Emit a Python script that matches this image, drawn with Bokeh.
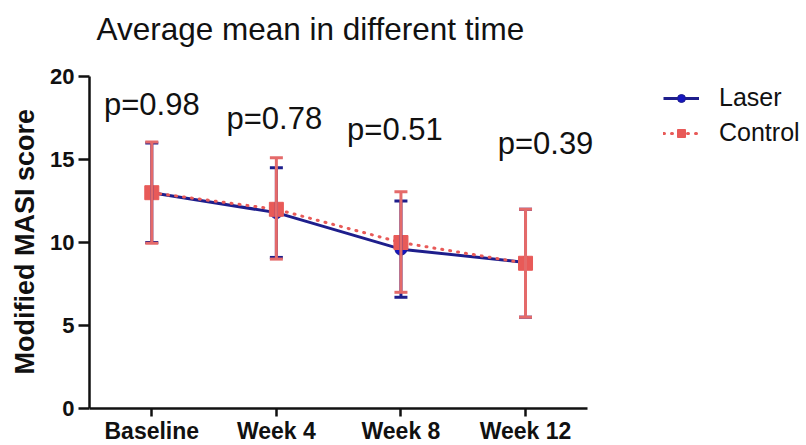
from bokeh.plotting import figure
from bokeh.models import (ColumnDataSource, Whisker, TeeHead, Legend, LegendItem,
                          Range1d, Label, Title)
from bokeh.core.properties import value
from bokeh.embed import file_html
from bokeh.resources import INLINE

categories = ["Baseline", "Week 4", "Week 8", "Week 12"]
laser_mean = [13.0, 11.8, 9.6, 8.8]
laser_upper = [16.0, 14.5, 12.5, 12.0]
laser_lower = [10.0, 9.1, 6.7, 5.5]
control_mean = [13.0, 12.0, 10.0, 8.75]
control_upper = [16.05, 15.1, 13.05, 12.0]
control_lower = [9.95, 9.0, 7.0, 5.5]
p_labels = ["p=0.98", "p=0.78", "p=0.51", "p=0.39"]
p_label_y = [18.3, 17.45, 16.8, 15.95]
p_label_dx = [0, -2, -6, 20]
y_ticks = [0, 5, 10, 15, 20]
title_text = "Average mean in different time"
y_label_text = "Modified MASI score"

FONT = "Liberation Sans"
LASER_LINE = "#1e1e8c"
LASER_MARK = "#1616c0"
CTRL = "#e85a58"
CTRL_ERR = "#e46a6a"

W, H = 806, 445
LEFT = 88
PX_X = 124.75          # pixels per category step
PX_Y = 16.6            # pixels per score unit
TOP_GAP, BOTTOM_GAP = 76, 37

xs = list(range(len(categories)))

p = figure(width=W, height=H, output_backend="svg", toolbar_location=None,
           x_range=Range1d(-0.5, -0.5 + (W - LEFT) / PX_X),
           y_range=Range1d(-BOTTOM_GAP / PX_Y, 20 + TOP_GAP / PX_Y),
           min_border_left=LEFT, min_border_right=0, min_border_top=0,
           min_border_bottom=0)
p.title.visible = False
p.outline_line_color = None
p.xgrid.grid_line_color = None
p.ygrid.grid_line_color = None
p.background_fill_color = "white"
p.border_fill_color = "white"

laser = ColumnDataSource(dict(x=xs, y=laser_mean, up=laser_upper, lo=laser_lower))
ctrl = ColumnDataSource(dict(x=xs, y=control_mean, up=control_upper, lo=control_lower))
plab = ColumnDataSource(dict(x=xs, y=p_label_y, t=p_labels, dx=p_label_dx))

l_line = p.line("x", "y", source=laser, line_color=LASER_LINE, line_width=3)
lw = Whisker(source=laser, base="x", upper="up", lower="lo", line_color=LASER_LINE,
             line_width=3, level="glyph",
             upper_head=TeeHead(size=13, line_color=LASER_LINE, line_width=3),
             lower_head=TeeHead(size=13, line_color=LASER_LINE, line_width=3))
p.add_layout(lw)
l_mark = p.scatter("x", "y", source=laser, marker="circle", size=12,
                   fill_color=LASER_MARK, line_color=LASER_LINE, line_width=1)

c_line = p.line("x", "y", source=ctrl, line_color=CTRL, line_width=3,
                line_dash="1 7", line_cap="round")
cw = Whisker(source=ctrl, base="x", upper="up", lower="lo", line_color=CTRL_ERR,
             line_width=3, level="glyph",
             upper_head=TeeHead(size=13, line_color=CTRL_ERR, line_width=3),
             lower_head=TeeHead(size=13, line_color=CTRL_ERR, line_width=3))
p.add_layout(cw)
c_mark = p.scatter("x", "y", source=ctrl, marker="square", size=14,
                   fill_color=CTRL, line_color=CTRL)

p.text("x", "y", text="t", source=plab, x_offset="dx", text_align="center",
       text_baseline="alphabetic", text_font=value(FONT), text_font_size="31px",
       text_color="#111111")

for ax in (p.xaxis[0], p.yaxis[0]):
    ax.axis_line_width = 2.5
    ax.axis_line_color = "#111111"
    ax.major_tick_line_width = 2.5
    ax.major_tick_line_color = "#111111"
    ax.major_tick_in = 0
    ax.minor_tick_line_color = None
    ax.major_label_text_font = FONT
    ax.major_label_text_font_style = "bold"
    ax.major_label_text_color = "#111111"

p.yaxis.ticker = y_ticks
p.yaxis.bounds = (0, 20)
p.yaxis.major_tick_out = 11
p.yaxis.major_label_text_font_size = "22px"
p.yaxis.major_label_standoff = 4

p.xaxis.ticker = xs
p.xaxis.major_label_overrides = {i: c for i, c in zip(xs, categories)}
p.xaxis.bounds = (-0.5, len(categories) - 0.5)
p.xaxis.fixed_location = 0
p.xaxis.major_tick_out = 8
p.xaxis.major_label_text_font_size = "23px"
p.xaxis.major_label_standoff = 1

ylab = Title(text=y_label_text, align="left", offset=H - 374, standoff=15,
             text_font=FONT, text_font_size="27px", text_font_style="bold",
             text_color="#111111")
p.add_layout(ylab, "left")

p.add_layout(Label(x=7, y=H - 28, x_units="screen", y_units="screen",
                   text=title_text, text_font=FONT, text_font_size="31.5px",
                   text_baseline="alphabetic", text_color="#111111"))

legend = Legend(items=[LegendItem(label="Laser", renderers=[l_line, l_mark]),
                       LegendItem(label="Control", renderers=[c_line, c_mark])],
                location=(574, 298), border_line_color=None, background_fill_alpha=0,
                label_text_font=FONT, label_text_font_size="25px",
                label_text_color="#111111", glyph_width=36, label_standoff=20,
                spacing=6, padding=0, margin=0)
p.add_layout(legend)

open("out.html", "w").write(file_html(p, INLINE))
